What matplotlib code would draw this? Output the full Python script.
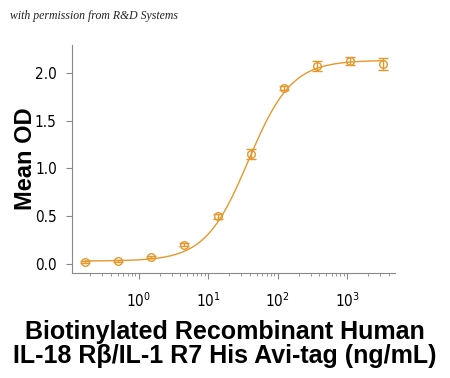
import numpy as np
import matplotlib
matplotlib.use('Agg')
import matplotlib.pyplot as plt
from matplotlib.ticker import LogLocator, NullFormatter

# Data (ng/mL vs mean OD)
conc = [0.17, 0.51, 1.52, 4.57, 13.7, 41.2, 123.5, 370.4, 1111.1, 3333.3]
mean_od = [0.02, 0.03, 0.07, 0.20, 0.50, 1.15, 1.84, 2.07, 2.12, 2.09]
od_err = [0.01, 0.01, 0.01, 0.015, 0.025, 0.05, 0.025, 0.05, 0.04, 0.06]

# 4PL fit parameters (bottom, top, EC50, hill) estimated from the curve
fit_bottom, fit_top, fit_ec50, fit_hill = 0.03, 2.13, 38.0, 1.4

color = '#E5982C'
plt.rcParams['font.family'] = 'DejaVu Sans'
plt.rcParams['font.stretch'] = 'condensed'

fig = plt.figure(figsize=(4.5, 3.78), dpi=100)
ax = fig.add_axes([0.16, 0.278, 0.718, 0.603])

xs = np.logspace(np.log10(conc[0]), np.log10(conc[-1]), 300)
ys = fit_bottom + (fit_top - fit_bottom) / (1 + (fit_ec50 / xs) ** fit_hill)
ax.plot(xs, ys, color=color, lw=1.0)
ax.errorbar(conc, mean_od, yerr=od_err, fmt='o', ms=5.5, mfc='none', mec=color,
            mew=1.0, ecolor=color, elinewidth=1.0, capsize=3.5, capthick=1.0)

ax.set_xscale('log')
ax.set_xlim(0.11, 4900)
ax.set_ylim(-0.094, 2.29)
ax.set_yticks([0.0, 0.5, 1.0, 1.5, 2.0])
ax.set_yticklabels(['0.0', '0.5', '1.0', '1.5', '2.0'])
ax.xaxis.set_major_locator(LogLocator(base=10, numticks=10))
ax.xaxis.set_minor_locator(LogLocator(base=10, subs=np.arange(2, 10), numticks=20))
ax.xaxis.set_minor_formatter(NullFormatter())

for s in ['top', 'right']:
    ax.spines[s].set_visible(False)
for s in ['left', 'bottom']:
    ax.spines[s].set_color('#888888')
ax.tick_params(axis='both', which='both', color='#888888', direction='out')
ax.tick_params(axis='both', which='major', length=4, labelsize=11, pad=7)
ax.tick_params(axis='x', which='minor', length=2)
ax.tick_params(axis='x', which='major', pad=9)

fig.text(0.056, 0.58, 'Mean OD', rotation=90, ha='center', va='center',
         fontsize=17, fontweight='bold', family='Liberation Sans')
fig.text(0.5, 0.122, 'Biotinylated Recombinant Human', ha='center', va='center',
         fontsize=18, fontweight='bold', family='Liberation Sans')
fig.text(0.5, 0.058, 'IL-18 R\u03b2/IL-1 R7 His Avi-tag (ng/mL)', ha='center', va='center',
         fontsize=18, fontweight='bold', family='Liberation Sans')
fig.text(0.022, 0.95, 'with permission from R&D Systems', fontsize=8.5, style='italic',
         family='Liberation Serif', color='#222222')

fig.savefig('out.png', dpi=100)
